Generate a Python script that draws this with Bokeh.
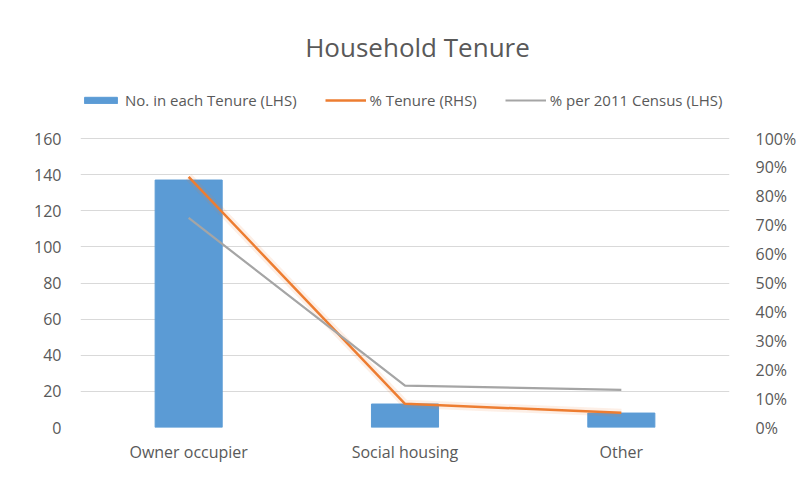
from bokeh.plotting import figure
from bokeh.models import (Range1d, LinearAxis, NumeralTickFormatter, Legend, LegendItem,
                          FixedTicker, FactorRange, Label)
from bokeh.embed import file_html
from bokeh.resources import INLINE

categories = ["Owner occupier", "Social housing", "Other"]
counts = [137, 13, 8]
pct_tenure = [0.867, 0.082, 0.051]
pct_census = [0.725, 0.145, 0.13]
left_ticks = [0, 20, 40, 60, 80, 100, 120, 140, 160]
right_ticks = [0, 0.1, 0.2, 0.3, 0.4, 0.5, 0.6, 0.7, 0.8, 0.9, 1.0]
series_names = ["No. in each Tenure (LHS)", "% Tenure (RHS)", "% per 2011 Census (LHS)"]
title_text = "Household Tenure"

BLUE = "#5B9BD5"
ORANGE = "#ED7D31"
GRAY = "#A5A5A5"
TXT = "#595959"
FONT = "Open Sans"
FS = "16px"

# layout (pixels)
W, H = 799, 470
TOP, BOTTOM, LEFT, RIGHT = 8, 43, 80, 61
FRAME_H = H - TOP - BOTTOM          # 419
AXIS_H = 289                        # height used by 0..160 / 0..100%
ymax_left = left_ticks[-1] * FRAME_H / AXIS_H
ymax_right = right_ticks[-1] * FRAME_H / AXIS_H

p = figure(width=W, height=H, x_range=FactorRange(*categories),
           y_range=Range1d(0, ymax_left), output_backend="svg", toolbar_location=None,
           min_border_left=LEFT, min_border_right=RIGHT, min_border_bottom=BOTTOM,
           min_border_top=TOP)
p.extra_y_ranges = {"pct": Range1d(0, ymax_right)}

bars = p.vbar(x=categories, top=counts, width=0.31, color=BLUE)
p.line(x=categories, y=pct_tenure, y_range_name="pct", color=ORANGE,
       line_width=8, line_alpha=0.12)
l1 = p.line(x=categories, y=pct_tenure, y_range_name="pct", color=ORANGE, line_width=2.5)
l2 = p.line(x=categories, y=pct_census, y_range_name="pct", color=GRAY, line_width=2.2)

p.outline_line_color = None
p.xgrid.visible = False
p.ygrid.grid_line_color = "#D9D9D9"
p.ygrid.ticker = FixedTicker(ticks=left_ticks)

for ax in [p.yaxis[0], p.xaxis[0]]:
    ax.axis_line_color = None
    ax.major_tick_line_color = None
    ax.minor_tick_line_color = None
    ax.major_label_text_font = FONT
    ax.major_label_text_font_size = FS
    ax.major_label_text_color = TXT
p.yaxis[0].ticker = FixedTicker(ticks=left_ticks)
p.yaxis[0].major_label_standoff = 13
p.xaxis[0].major_label_standoff = 7

ra = LinearAxis(y_range_name="pct", ticker=FixedTicker(ticks=right_ticks),
                formatter=NumeralTickFormatter(format="0%"))
ra.axis_line_color = None
ra.major_tick_line_color = None
ra.minor_tick_line_color = None
ra.major_label_text_font = FONT
ra.major_label_text_font_size = FS
ra.major_label_text_color = TXT
ra.major_label_standoff = 20
p.add_layout(ra, "right")

# title (positions relative to the frame's bottom-left corner)
frame_bottom = H - BOTTOM
p.add_layout(Label(x=417 - LEFT, y=frame_bottom - 46, x_units="screen", y_units="screen",
                   text=title_text, text_align="center", text_baseline="middle",
                   text_font=FONT, text_font_size="26px", text_color=TXT))

legend = Legend(items=[
    LegendItem(label=series_names[0], renderers=[bars]),
    LegendItem(label=series_names[1], renderers=[l1]),
    LegendItem(label=series_names[2], renderers=[l2]),
], orientation="horizontal", location=(0, frame_bottom - 100 - 10))
legend.glyph_width = 41
legend.glyph_height = 8
legend.label_standoff = 4
legend.spacing = 28
legend.label_height = 20
legend.label_text_font = FONT
legend.label_text_font_size = "15px"
legend.label_text_color = TXT
legend.label_text_baseline = "middle"
legend.border_line_color = None
legend.background_fill_alpha = 0
legend.padding = 0
legend.margin = 0
p.add_layout(legend, "center")

open("out.html", "w").write(file_html(p, INLINE))
